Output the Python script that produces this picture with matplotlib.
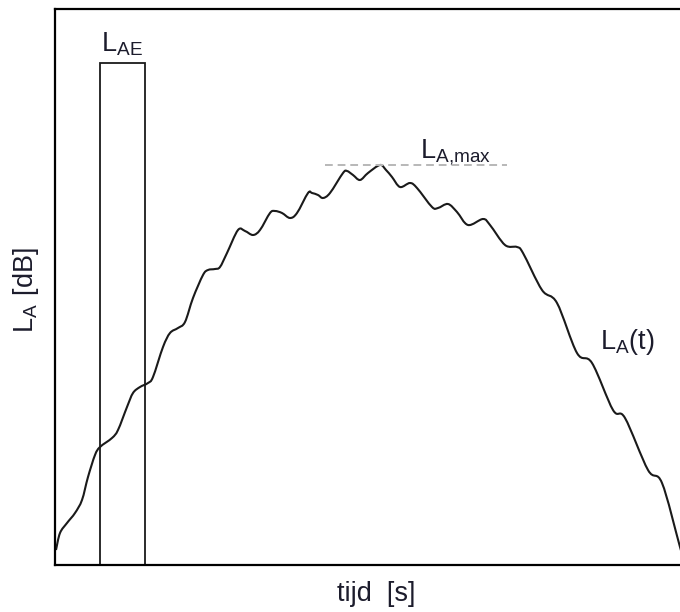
import numpy as np
import matplotlib.pyplot as plt
from matplotlib.patches import Rectangle, PathPatch
from matplotlib.path import Path

"""
Geluidsniveau L_A(t) tijdens een passage, met L_A,max en het equivalente blok L_AE.
"""

# tijd (willekeurige eenheden) en niveau L_A
tijd = np.array([1, 5, 12, 20, 27, 33, 40, 45, 57, 63, 72, 78, 85, 93, 98,
                 108, 115, 123, 130, 138, 148, 153, 160, 165, 172, 183, 190,
                 198, 205, 215, 220, 227, 235, 242, 253, 257, 263, 268, 275,
                 288, 292, 298, 305, 313, 325, 331, 337, 345, 355, 362, 377,
                 383, 393, 402, 413, 428, 435, 450, 462, 468, 487, 502, 522,
                 537, 558, 570, 593, 607, 625, 633])
niveau = np.array([15, 32, 42, 52, 65, 88, 110, 118, 127, 135, 158, 172, 178,
                   182, 188, 218, 232, 237, 243, 267, 290, 295, 296, 298, 312,
                   335, 334, 330, 335, 352, 354, 352, 347, 352, 372, 372, 370,
                   367, 372, 392, 394, 390, 385, 392, 400, 395, 388, 378, 382,
                   377, 358, 357, 361, 353, 340, 346, 340, 320, 318, 312, 275,
                   262, 212, 202, 155, 147, 95, 82, 18, -10])

la_max = 400
la_max_span = [270, 452]
lae_start, lae_duur, lae_niveau = 45, 45, 502


def vloeiend_pad(x, y):
    p = np.column_stack([x, y]).astype(float)
    p = np.vstack([p[0], p, p[-1]])
    verts = [p[1]]
    codes = [Path.MOVETO]
    for i in range(1, len(p) - 2):
        c1 = p[i] + (p[i + 1] - p[i - 1]) / 6
        c2 = p[i + 1] - (p[i + 2] - p[i]) / 6
        verts += [c1, c2, p[i + 1]]
        codes += [Path.CURVE4] * 3
    return Path(verts, codes)


plt.rcParams['mathtext.fontset'] = 'custom'
plt.rcParams['mathtext.rm'] = 'Liberation Sans'
plt.rcParams['font.family'] = ['Liberation Sans', 'DejaVu Sans']

fig = plt.figure(figsize=(6.8, 6.12), dpi=100)
ax = fig.add_axes([55 / 680, 47 / 612, 625 / 680, 556 / 612])

ax.add_patch(PathPatch(vloeiend_pad(tijd, niveau), fill=False,
                       edgecolor='#1a1a1a', lw=1.5, joinstyle='round'))
ax.plot(la_max_span, [la_max, la_max], color='#b8b8b8', lw=1.4,
        dashes=(4, 2.5))
ax.add_patch(Rectangle((lae_start, 0), lae_duur, lae_niveau, fill=False,
                       edgecolor='#1a1a1a', lw=1.3))

ax.set_xlim(0, 625)
ax.set_ylim(0, 556)
ax.set_xticks([])
ax.set_yticks([])
for side in ['left', 'top', 'bottom']:
    ax.spines[side].set_linewidth(1.6)
ax.spines['right'].set_visible(False)

kleur = '#1c1c2c'
fs = 19.5
ax.text(67, 521, r'$\mathregular{L_{AE}}$', ha='center', va='center',
        fontsize=fs, color=kleur)
ax.text(400, 413, r'$\mathregular{L_{A{,}max}}$', ha='center', va='center',
        fontsize=fs, color=kleur)
ax.text(572, 223, r'$\mathregular{L_{A}(t)}$', ha='center', va='center',
        fontsize=fs, color=kleur)
fig.text(376 / 680, 1 - 594 / 612, 'tijd  [s]', ha='center', va='center',
         fontsize=fs, color=kleur)
fig.text(26 / 680, 1 - 290 / 612, r'$\mathregular{L_{A}\ [dB]}$',
         ha='center', va='center', rotation=90, fontsize=fs, color=kleur)

fig.savefig('out.png', dpi=100)
